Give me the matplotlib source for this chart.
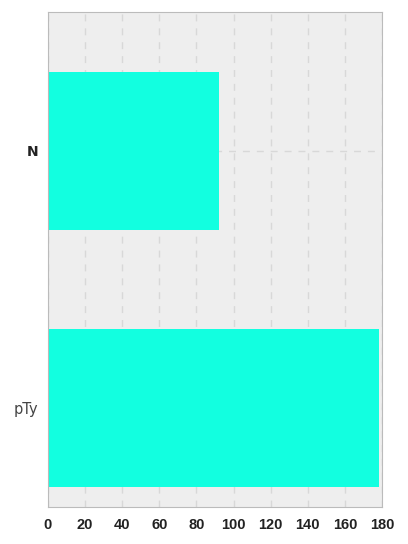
import matplotlib.pyplot as plt
import numpy as np

categories = ['pTy', 'N']
values = [178.5, 92]

fig = plt.figure(figsize=(4.08, 5.44), dpi=100)
ax = fig.add_axes([0.1176, 0.068, 0.8186, 0.910])
ax.set_facecolor('#eeeeee')

y = np.arange(len(categories))
ax.barh(y, values, height=0.615, color='#12ffe0', zorder=2)

ax.set_xlim(0, 180)
ax.set_ylim(-0.385, 1.54)
ax.set_xticks(np.arange(0, 181, 20))
ax.set_yticks(y)
ax.set_yticklabels(categories)
ax.tick_params(axis='x', length=0, pad=8)
ax.tick_params(axis='y', length=0, pad=7)

for lab in ax.get_xticklabels():
    lab.set_fontfamily('Liberation Sans')
    lab.set_fontweight('bold')
    lab.set_fontsize(10.5)
    lab.set_color('#222222')
ylabs = ax.get_yticklabels()
ylabs[0].set_fontfamily('DejaVu Sans')
ylabs[0].set_fontsize(10.5)
ylabs[0].set_color('#444444')
ylabs[1].set_fontfamily('DejaVu Sans')
ylabs[1].set_fontweight('bold')
ylabs[1].set_fontsize(10)
ylabs[1].set_color('#222222')

ax.grid(True, linestyle=(0, (5, 5)), color='#d8d8d8', linewidth=1, zorder=1)
ax.set_axisbelow(True)
for s in ax.spines.values():
    s.set_color('#bbbbbb')

plt.savefig('out.png', dpi=100)
